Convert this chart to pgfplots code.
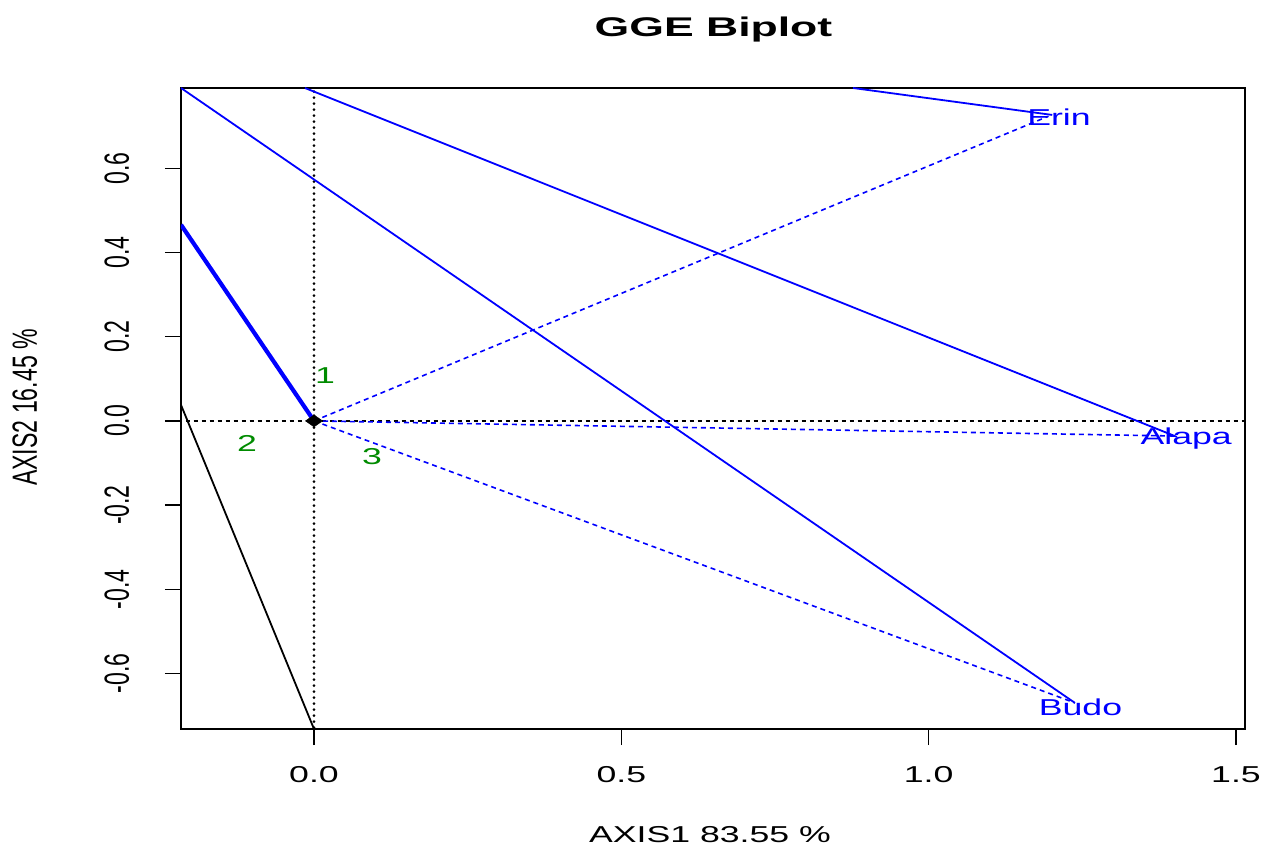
\documentclass[border=0pt]{standalone}
\usepackage{fontspec}
\setmainfont{Liberation Sans}
\newfontfamily\hfont{Liberation Sans}[FakeStretch=1.55]
\newfontfamily\tfont{Liberation Sans}[FakeStretch=1.65]
\newfontfamily\vfont{Liberation Sans}[FakeStretch=0.66]
\usepackage{pgfplots}
\pgfplotsset{compat=1.18}
\definecolor{rblue}{RGB}{0,0,255}
\definecolor{rgreen}{RGB}{0,139,0}
\begin{document}
\begin{tikzpicture}
\useasboundingbox (-181bp,-122bp) rectangle (1082bp,729bp);
\begin{axis}[
  at={(0,0)}, anchor=south west,
  scale only axis, width=1064bp, height=641bp,
  xmin=-0.2164, xmax=1.5147, ymin=-0.732, ymax=0.791,
  axis line style={line width=1.6bp, black},
  tick align=outside, major tick length=16bp,
  tick style={line width=1.4bp, black},
  xtick pos=bottom, ytick pos=left,
  xtick={0,0.5,1,1.5}, xticklabels={0.0,0.5,1.0,1.5},
  ytick={-0.6,-0.4,-0.2,0,0.2,0.4,0.6},
  yticklabels={-0.6,-0.4,-0.2,0.0,0.2,0.4,0.6},
  xticklabel style={font=\hfont\fontsize{23bp}{27bp}\selectfont, anchor=base, inner sep=0pt, yshift=-37bp},
  yticklabel style={font=\vfont\fontsize{35bp}{40bp}\selectfont, anchor=base, inner sep=0pt, xshift=-36bp, rotate=90},
  clip=true,
]
% reference lines
\addplot[black, line width=1.3bp, dash pattern=on 4bp off 4bp] coordinates {(-0.3,0) (1.6,0)};
\addplot[black, line width=2.8bp, line cap=round, dash pattern=on 0bp off 6bp] coordinates {(0,-0.8) (0,0.8)};
% dashed vectors to the genotypes
\addplot[rblue, line width=1.6bp, dash pattern=on 5bp off 4bp] coordinates {(0,0) (1.195,0.724)};
\addplot[rblue, line width=1.6bp, dash pattern=on 5bp off 4bp] coordinates {(0,0) (1.404,-0.036)};
\addplot[rblue, line width=1.6bp, dash pattern=on 5bp off 4bp] coordinates {(0,0) (1.238,-0.670)};
% solid lines
\addplot[rblue, line width=1.8bp] coordinates {(-0.0146,0.791) (1.404,-0.038)};
\addplot[rblue, line width=1.8bp] coordinates {(-0.2164,0.791) (1.238,-0.670)};
\addplot[rblue, line width=1.8bp] coordinates {(0.877,0.791) (1.201,0.727)};
\addplot[rblue, line width=4.2bp] coordinates {(-0.2164,0.466) (0,0)};
\addplot[black, line width=1.8bp] coordinates {(-0.2164,0.038) (0,-0.732)};
% origin marker
\addplot[only marks, black, mark=diamond*, mark size=6bp, mark options={xscale=1.9}] coordinates {(0,0)};
% labels
\node[rblue, anchor=base, inner sep=0pt, font=\hfont\fontsize{23bp}{27bp}\selectfont] at (axis cs:1.212,0.703) {Erin};
\node[rblue, anchor=base, inner sep=0pt, font=\hfont\fontsize{23bp}{27bp}\selectfont] at (axis cs:1.419,-0.057) {Alapa};
\node[rblue, anchor=base, inner sep=0pt, font=\hfont\fontsize{23bp}{27bp}\selectfont] at (axis cs:1.247,-0.699) {Budo};
\node[rgreen, anchor=base, inner sep=0pt, font=\hfont\fontsize{23bp}{27bp}\selectfont] at (axis cs:0.018,0.090) {1};
\node[rgreen, anchor=base, inner sep=0pt, font=\hfont\fontsize{23bp}{27bp}\selectfont] at (axis cs:-0.109,-0.0737) {2};
\node[rgreen, anchor=base, inner sep=0pt, font=\hfont\fontsize{23bp}{27bp}\selectfont] at (axis cs:0.0944,-0.1046) {3};
\end{axis}
\node[anchor=base, inner sep=0pt, font=\tfont\bfseries\fontsize{27bp}{32bp}\selectfont] at (532.5bp,692bp) {GGE Biplot};
\node[anchor=base, inner sep=0pt, font=\hfont\fontsize{23bp}{27bp}\selectfont] at (529bp,-113bp) {AXIS1 83.55 \%};
\node[anchor=base, inner sep=0pt, rotate=90, font=\vfont\fontsize{35bp}{40bp}\selectfont] at (-144bp,321.5bp) {AXIS2 16.45 \%};
\end{tikzpicture}
\end{document}
